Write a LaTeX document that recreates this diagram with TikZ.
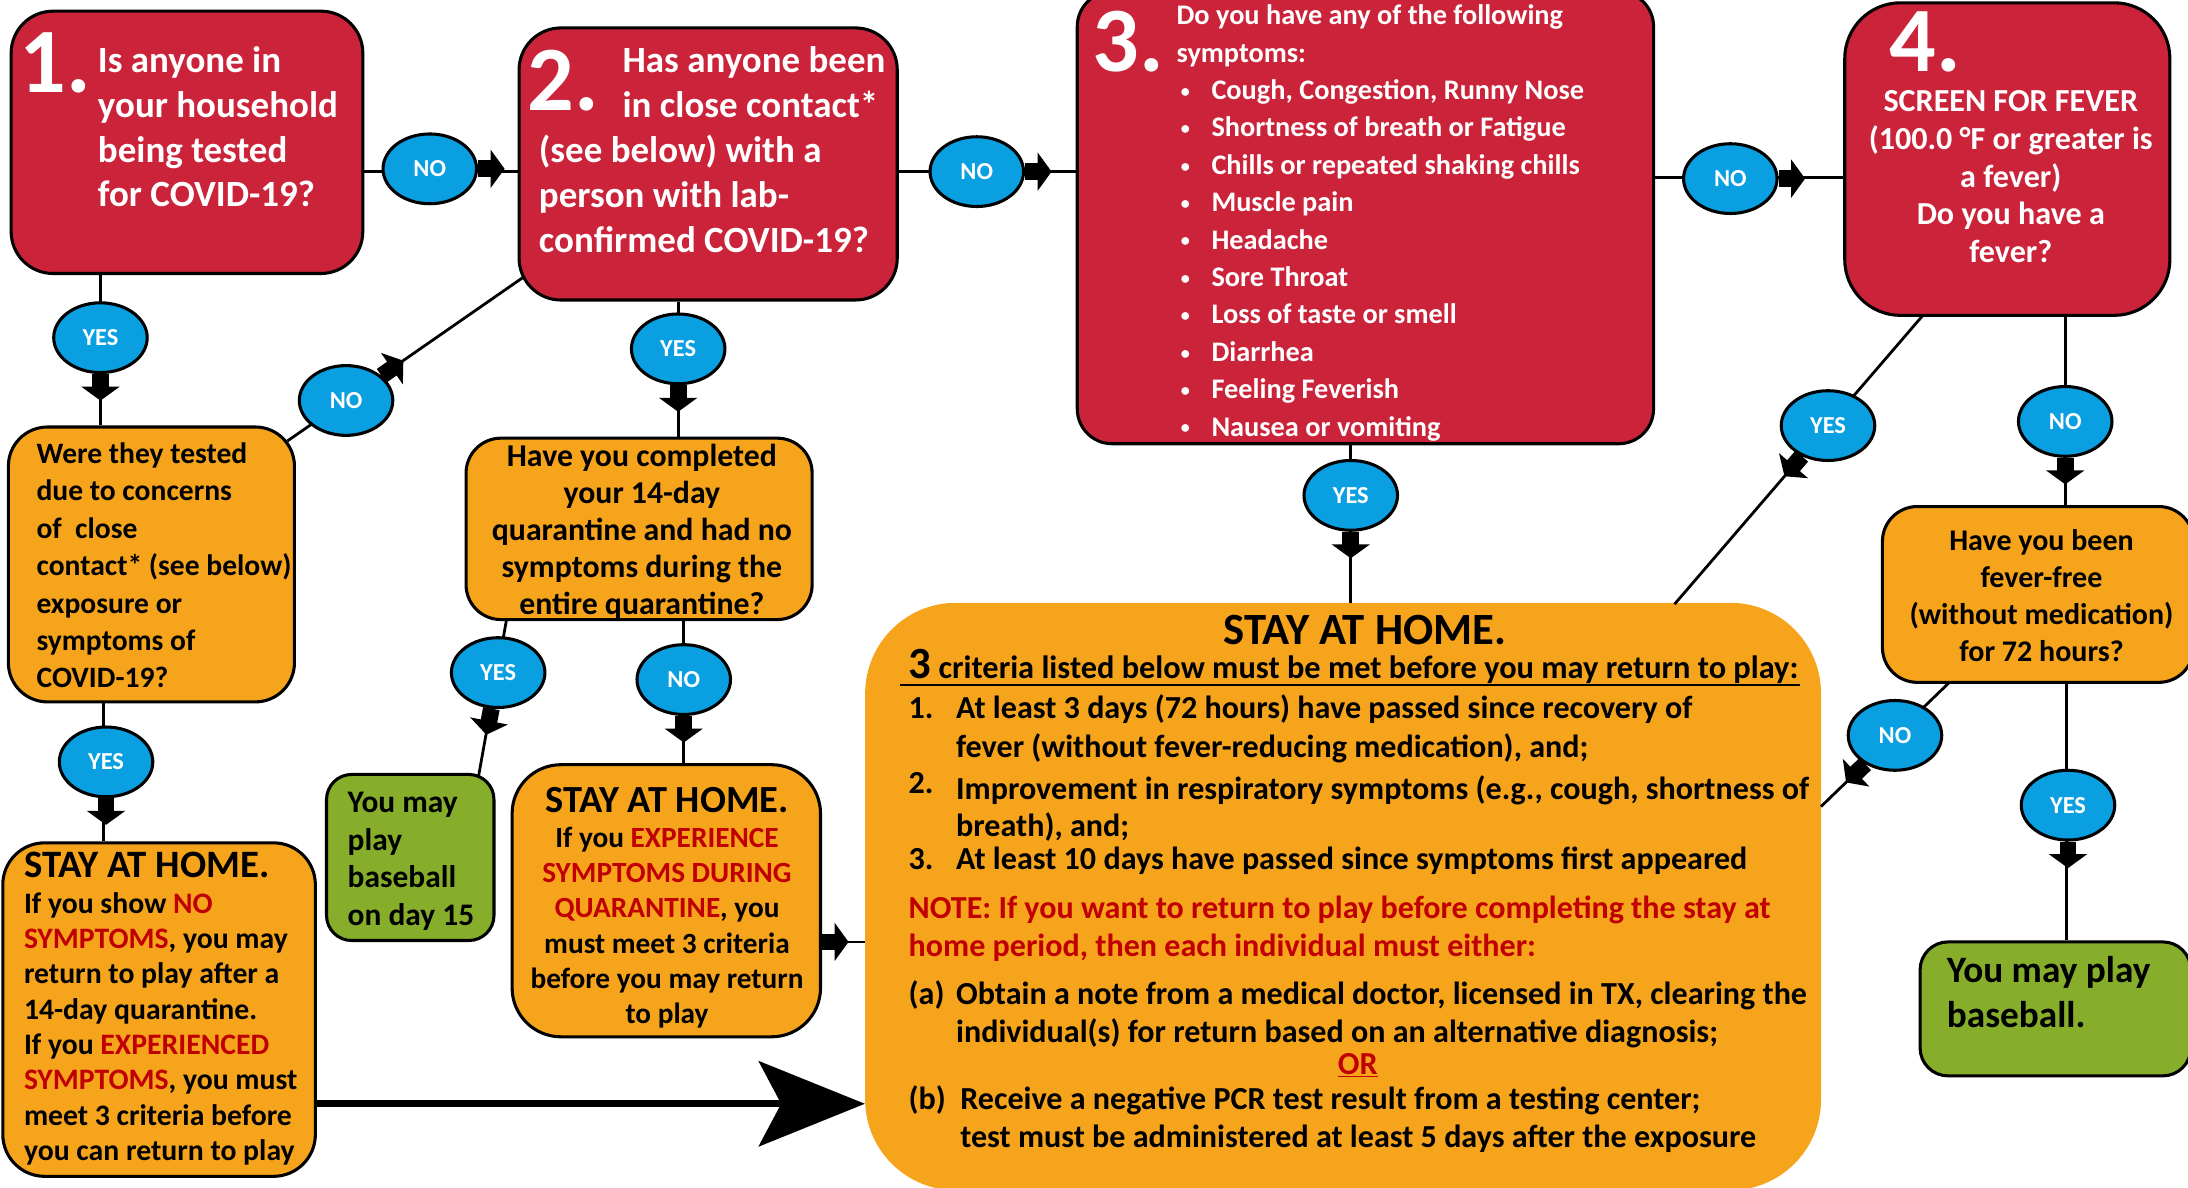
\documentclass[tikz,border=0pt]{standalone}
\usepackage{fontspec}
\setmainfont{Carlito}
\usetikzlibrary{arrows.meta,shapes.geometric,calc}
\definecolor{cred}{RGB}{203,35,57}
\definecolor{corange}{RGB}{247,164,29}
\definecolor{cblue}{RGB}{9,159,224}
\definecolor{cgreen}{RGB}{134,174,43}
\definecolor{tred}{RGB}{192,0,0}
\newcommand\fsz[2]{\fontsize{#1}{#2}\selectfont\bfseries}
\newcommand\R[1]{\textcolor{tred}{#1}}
\newcommand\bul{\hspace*{3pt}\makebox[22pt][l]{\raisebox{1.5pt}{\fontsize{13}{13}\selectfont •}}}
\newcommand\stubdown[1]{\draw[stub] (#1.south) -- ++(0,19);}
\newcommand\stubright[1]{\draw[stub] (#1.east) -- ++(19,0);}
\newcommand\stubto[2]{\path (#1) -- (#2) coordinate[pos=0] (#1s); \draw[stub] (#1s) -- ($(#1s)!19pt!(#2)$);}
\tikzset{
  box/.style={draw=black, line width=2.2pt, inner sep=0pt},
  redbox/.style={box, fill=cred},
  orbox/.style={box, fill=corange},
  grbox/.style={box, fill=cgreen},
  tl/.style={inner sep=0pt, anchor=north west, align=left},
  tc/.style={inner sep=0pt, anchor=north, align=center},
  bignum/.style={inner sep=0pt, anchor=base west, text=white, font=\fsz{66}{66}},
  oval/.style={ellipse, draw=black, line width=2.2pt, fill=cblue, minimum width=67, minimum height=50, inner sep=0pt, text=white, font=\fsz{17.5}{18}},
  conn/.style={draw=black, line width=2pt},
  stub/.style={draw=black, line width=12pt, -{Triangle[width=27pt,length=10pt]}},
}
\begin{document}
\begin{tikzpicture}[x=1pt,y=-1pt]
\useasboundingbox (0,0) rectangle (1568,851);
% ---------- boxes ----------
\node[redbox, minimum width=252, minimum height=188, rounded corners=30] (b1) at (134,102) {};
\node[redbox, minimum width=271, minimum height=195, rounded corners=30] (b2) at (507.5,117.5) {};
\node[redbox, minimum width=413, minimum height=324, rounded corners=25] (b3) at (978.5,156) {};
\node[redbox, minimum width=233, minimum height=224, rounded corners=40] (b4) at (1438.5,114) {};
\node[orbox, minimum width=205, minimum height=197, rounded corners=28] (were) at (108.5,404.5) {};
\node[orbox, minimum width=248, minimum height=130, rounded corners=25] (comp) at (458,379) {};
\node[grbox, minimum width=120, minimum height=119, rounded corners=18] (g1) at (294,614.5) {};
\node[orbox, minimum width=221, minimum height=195, rounded corners=35] (stay2) at (477.5,645.5) {};
\node[orbox, minimum width=224, minimum height=239, rounded corners=30] (stay1) at (114,723.5) {};
\node[fill=corange, inner sep=0pt, minimum width=685, minimum height=421, rounded corners=65] (big) at (962.5,642.5) {};
\node[orbox, minimum width=223, minimum height=126, rounded corners=25] (have) at (1460.5,426) {};
\node[grbox, minimum width=194, minimum height=96, rounded corners=20] (g2) at (1473,723) {};
% ---------- connector end points ----------
\coordinate (p4a) at (206,316);  \coordinate (p4b) at (376,198);
\coordinate (p7a) at (363,444);  \coordinate (p7b) at (343,556);
\coordinate (p13a) at (1378,226); \coordinate (p13b) at (1200,433);
\coordinate (p15a) at (1397,489); \coordinate (p15b) at (1305,578);
% ---------- connectors ----------
\draw[conn] (b1.east |- 0,123) -- (b2.west |- 0,123);
\draw[conn] (b2.east |- 0,123) -- (b3.west |- 0,123);
\draw[conn] (b3.east |- 0,127) -- (b4.west |- 0,127);
\draw[conn] (b1.south -| 72,0) -- (were.north -| 72,0);
\draw[conn] (p4a) -- (p4b);
\draw[conn] (b2.south -| 486,0) -- (comp.north -| 486,0);
\draw[conn] (p7a) -- (p7b);
\draw[conn] (comp.south -| 490,0) -- (stay2.north -| 490,0);
\draw[conn] (stay2.east |- 0,675) -- (big.west |- 0,675);
\draw[conn] (were.south -| 74,0) -- (stay1.north -| 74,0);
\draw[line width=5pt, -{Stealth[length=76pt,width=61pt,inset=16pt]}] (stay1.east |- 0,791) -- (big.west |- 0,791);
\draw[conn] (b3.south -| 968,0) -- (big.north -| 968,0);
\draw[conn] (p13a) -- (p13b);
\draw[conn] (b4.south -| 1480,0) -- (have.north -| 1480,0);
\draw[conn] (p15a) -- (p15b);
\draw[conn] (have.south -| 1481,0) -- (g2.north -| 1481,0);
% ---------- ovals ----------
\node[oval] (no1) at (308,121) {NO};
\node[oval] (no2) at (700,123) {NO};
\node[oval] (no3) at (1240,128) {NO};
\node[oval] (yes1) at (72,242) {YES};
\node[oval] (no4) at (248,287) {NO};
\node[oval] (yes2) at (486,250) {YES};
\node[oval] (yes3) at (357,482) {YES};
\node[oval] (no5) at (490,487) {NO};
\node[oval] (yes4) at (76,546) {YES};
\node[oval] (yes5) at (968,355) {YES};
\node[oval] (yes6) at (1310,305) {YES};
\node[oval] (no6) at (1480,302) {NO};
\node[oval] (no7) at (1358,527) {NO};
\node[oval] (yes7) at (1482,577) {YES};
% ---------- arrow stubs ----------
\stubright{no1}
\stubright{no2}
\stubright{no3}
\stubdown{yes1}
\stubto{no4}{p4b}
\stubdown{yes2}
\stubto{yes3}{p7b}
\stubdown{no5}
\stubdown{yes4}
\stubdown{yes5}
\stubto{yes6}{p13b}
\stubdown{no6}
\stubto{no7}{p15b}
\stubdown{yes7}
\draw[stub] (stay2.east |- 0,675) -- ++(19,0);
% ---------- texts ----------
\node[bignum] (n1) at (14,66) {1.};
\node[tl, text=white, font=\fsz{26.5}{32}] (t1) at (70,29.6) {\strut Is anyone in\\your household\\being tested\\for COVID-19?};
\node[bignum] (n2) at (378,79) {2.};
\node[tl, text=white, font=\fsz{26.5}{32}] (t2a) at (446,29.6) {\strut Has anyone been\\in close contact*};
\node[tl, text=white, font=\fsz{26.5}{32}] (t2b) at (386,94) {\strut (see below) with a\\person with lab-\\confirmed COVID-19?};
\node[bignum] (n3) at (783,51) {3.};
\node[tl, text=white, font=\fsz{20.3}{26.8}] (t3) at (843,-1.3) {\strut Do you have any of the following\\symptoms:\\
\bul Cough, Congestion, Runny Nose\\
\bul Shortness of breath or Fatigue\\
\bul Chills or repeated shaking chills\\
\bul Muscle pain\\
\bul Headache\\
\bul Sore Throat\\
\bul Loss of taste or smell\\
\bul Diarrhea\\
\bul Feeling Feverish\\
\bul Nausea or vomiting};
\node[bignum] (n4) at (1354,51) {4.};
\node[tc, text=white, font=\fsz{23}{27}] (t4) at (1441,61.1) {\strut SCREEN FOR FEVER\\(100.0 °F or greater is\\a fever)\\Do you have a\\fever?};
\node[tl, font=\fsz{21.2}{26.8}] (twere) at (26,313.2) {\strut Were they tested\\due to concerns\\of\ \ close\\contact* (see below)\\exposure or\\symptoms of\\COVID-19?};
\node[tc, font=\fsz{22.8}{26.6}] (tcomp) at (460,315.2) {\strut Have you completed\\your 14-day\\quarantine and had no\\symptoms during the\\entire quarantine?};
\node[tl, font=\fsz{22.5}{27}] (tg1) at (249,563.1) {\strut You may\\play\\baseball\\on day 15};
\node[inner sep=0pt, anchor=base, font=\fsz{27.5}{30}] (ts2h) at (478,582) {STAY AT HOME.};
\node[tc, font=\fsz{21}{25.2}] (ts2) at (478,589.6) {\strut If you \R{EXPERIENCE}\\\R{SYMPTOMS DURING}\\\R{QUARANTINE}, you\\must meet 3 criteria\\before you may return\\to play};
\node[inner sep=0pt, anchor=base west, font=\fsz{27.8}{30}] (ts1h) at (17,629) {STAY AT HOME.};
\node[tl, font=\fsz{21.3}{25.3}] (ts1) at (17,636.6) {\strut If you show \R{NO}\\\R{SYMPTOMS}, you may\\return to play after a\\14-day quarantine.\\If you \R{EXPERIENCED}\\\R{SYMPTOMS}, you must\\meet 3 criteria before\\you can return to play};
\node[tl, font=\fsz{26.7}{32}] (tg2) at (1395,681.6) {\strut You may play\\baseball.};
\node[tc, font=\fsz{21.5}{26.7}] (thave) at (1463,375.3) {\strut Have you been\\fever-free\\(without medication)\\for 72 hours?};
% big box texts
\node[inner sep=0pt, anchor=base, font=\fsz{32}{34}] (tbh) at (978,462) {STAY AT HOME.};
\node[inner sep=0pt, anchor=base west, font=\fsz{23.2}{26}] (tbc) at (651,486.5) {{\fontsize{32}{32}\selectfont 3} criteria listed below must be met before you may return to play:};
\draw[line width=1.5pt] (645,491) -- (1290,491);
\node[inner sep=0pt, anchor=base west, font=\fsz{23}{26}] (i1n) at (651,515) {1.};
\node[tl, font=\fsz{23}{28}] (i1) at (685,495.4) {\strut At least 3 days (72 hours) have passed since recovery of\\fever (without fever-reducing medication), and;};
\node[inner sep=0pt, anchor=base west, font=\fsz{23}{26}] (i2n) at (651,569) {2.};
\node[tl, font=\fsz{23}{26}] (i2) at (685,554.8) {\strut Improvement in respiratory symptoms (e.g., cough, shortness of\\breath), and;};
\node[inner sep=0pt, anchor=base west, font=\fsz{23}{26}] (i3n) at (651,623) {3.};
\node[inner sep=0pt, anchor=base west, font=\fsz{23}{26}] (i3) at (685,623) {At least 10 days have passed since symptoms first appeared};
\node[tl, text=tred, font=\fsz{23}{27}] (note) at (651,639.1) {\strut NOTE: If you want to return to play before completing the stay at\\home period, then each individual must either:};
\node[inner sep=0pt, anchor=base west, font=\fsz{23}{26}] (ian) at (651,720) {(a)};
\node[tl, font=\fsz{23}{27}] (ia) at (685,701.1) {\strut Obtain a note from a medical doctor, licensed in TX, clearing the\\individual(s) for return based on an alternative diagnosis;};
\node[inner sep=0pt, anchor=base, text=tred, font=\fsz{23}{26}] (or) at (973,770) {\underline{OR}};
\node[inner sep=0pt, anchor=base west, font=\fsz{23}{26}] (ibn) at (651,795) {(b)};
\node[tl, font=\fsz{23}{27}] (ib) at (688,776.1) {\strut Receive a negative PCR test result from a testing center;\\test must be administered at least 5 days after the exposure};
\end{tikzpicture}
\end{document}
